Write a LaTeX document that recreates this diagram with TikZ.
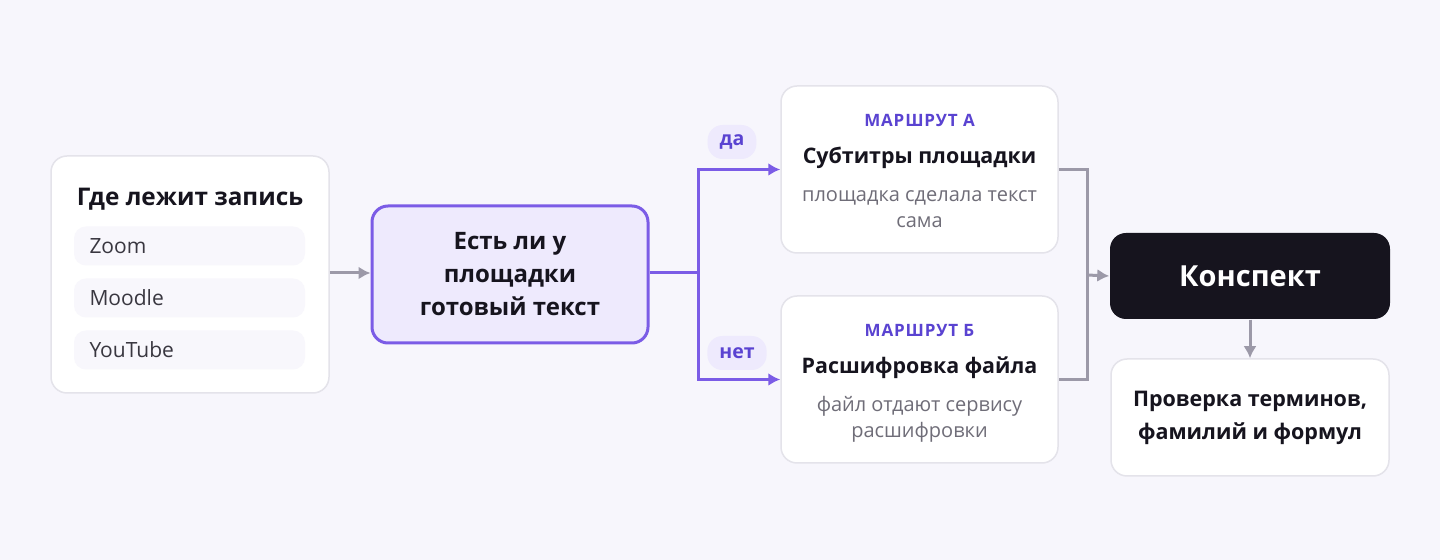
\documentclass[tikz,border=0pt]{standalone}
\usepackage{fontspec}
\setmainfont{Open Sans}
\newfontfamily\routefont[LetterSpace=5]{Open Sans}
\usetikzlibrary{arrows.meta,positioning}
\definecolor{bgcol}{HTML}{F7F6FC}
\definecolor{edgecol}{HTML}{E4E3EA}
\definecolor{pillcol}{HTML}{F8F7FC}
\definecolor{violet}{HTML}{7B5CE6}
\definecolor{violettext}{HTML}{5A43D1}
\definecolor{violetfill}{HTML}{EEEAFD}
\definecolor{linecol}{HTML}{9C99A8}
\definecolor{inkcol}{HTML}{16141E}
\definecolor{softtext}{HTML}{6F6D78}
\newcommand{\fsz}[2]{\fontsize{#1bp}{#2bp}\selectfont}
\tikzset{
  card/.style={draw=edgecol,line width=1.5bp,fill=white,rounded corners=16bp,
    inner sep=0pt,align=center,text=inkcol},
  pill/.style={fill=pillcol,rounded corners=12bp,minimum width=231bp,minimum height=39bp,
    inner sep=0pt,text width=200bp,align=left,text=inkcol!85,font=\fsz{21}{24}},
  tag/.style={fill=violetfill,rounded corners=15bp,minimum height=34bp,inner xsep=12bp,
    text=violettext,font=\bfseries\fsz{19.5}{22}},
  flow/.style={->,line width=3bp,violet},
  merge/.style={->,line width=3bp,linecol},
}
\begin{document}
\begin{tikzpicture}[>={Latex[length=12bp,width=13bp]},line join=miter]
  \fill[bgcol] (0bp,0bp) rectangle (1440bp,560bp);
  \useasboundingbox (0bp,0bp) rectangle (1440bp,560bp);
%%
  % Node: source
  \node[card,minimum width=278bp,minimum height=237bp] (source) at (190bp,285.5bp) {};
  \node[text=inkcol,font=\bfseries\fsz{24.3}{28}] (sourcetitle) at (190bp,361bp) {Где лежит запись};
  \node[pill] (zoom) at (189.5bp,314bp) {Zoom};
  \node[pill] (moodle) at (189.5bp,262bp) {Moodle};
  \node[pill] (youtube) at (189.5bp,210bp) {YouTube};
  % Node: check
  \node[card,draw=violet,line width=3bp,fill=violetfill,minimum width=276bp,minimum height=137bp,
    font=\bfseries\fsz{24}{33}] (check) at (510bp,285.5bp) {Есть ли у\\площадки\\готовый текст};
  % Node: routea
  \node[card,minimum width=277bp,minimum height=167bp] (routea) at (919.5bp,390.5bp) {};
  \node[text=violettext,font=\routefont\bfseries\fsz{17}{20}] (routeahead) at (919.5bp,440bp) {МАРШРУТ А};
  \node[text=inkcol,font=\bfseries\fsz{21.4}{25}] (routeatitle) at (919.5bp,402bp) {Субтитры площадки};
  \node[text=softtext,align=center,font=\fsz{20}{26}] (routeanote) at (919.5bp,351bp) {площадка сделала текст\\сама};
  % Node: routeb
  \node[card,minimum width=277bp,minimum height=167bp] (routeb) at (919.5bp,180.5bp) {};
  \node[text=violettext,font=\routefont\bfseries\fsz{17}{20}] (routebhead) at (919.5bp,230bp) {МАРШРУТ Б};
  \node[text=inkcol,font=\bfseries\fsz{21.4}{25}] (routebtitle) at (919.5bp,192bp) {Расшифровка файла};
  \node[text=softtext,align=center,font=\fsz{20}{26}] (routebnote) at (919.5bp,140.5bp) {файл отдают сервису\\расшифровки};
  % Node: notes
  \node[card,draw=none,fill=inkcol,text=white,minimum width=280bp,minimum height=86bp,
    font=\bfseries\fsz{29}{32}] (notes) at (1250bp,284bp) {Конспект};
  % Node: review
  \node[card,minimum width=278bp,minimum height=117bp,font=\bfseries\fsz{21.5}{33}] (review) at (1250bp,142.5bp)
    {Проверка терминов,\\фамилий и формул};
  % Edge: source -> check
  \draw[merge] (source.east |- 0,287bp) -- (check.west |- 0,287bp);
  % Edge: check -> routea, check -> routeb
  \coordinate (fork) at (698bp,287bp);
  \draw[line width=3bp,violet] (check.east |- fork) -- (fork);
  \draw[flow] (fork) |- (routea.west);
  \draw[flow] (fork) |- (routeb.west);
  \node[tag] (yes) at (732bp,418bp) {да};
  \node[tag] (no) at (737bp,207bp) {нет};
  % Edge: routea, routeb -> notes
  \coordinate (join) at (1087bp,285bp);
  \draw[line width=3bp,linecol] (routea.east) -| (join) |- (routeb.east);
  \draw[merge] (join) -- (notes.west);
  % Edge: notes -> review
  \draw[merge] (notes.south) -- (review.north);
%
\end{tikzpicture}
\end{document}
